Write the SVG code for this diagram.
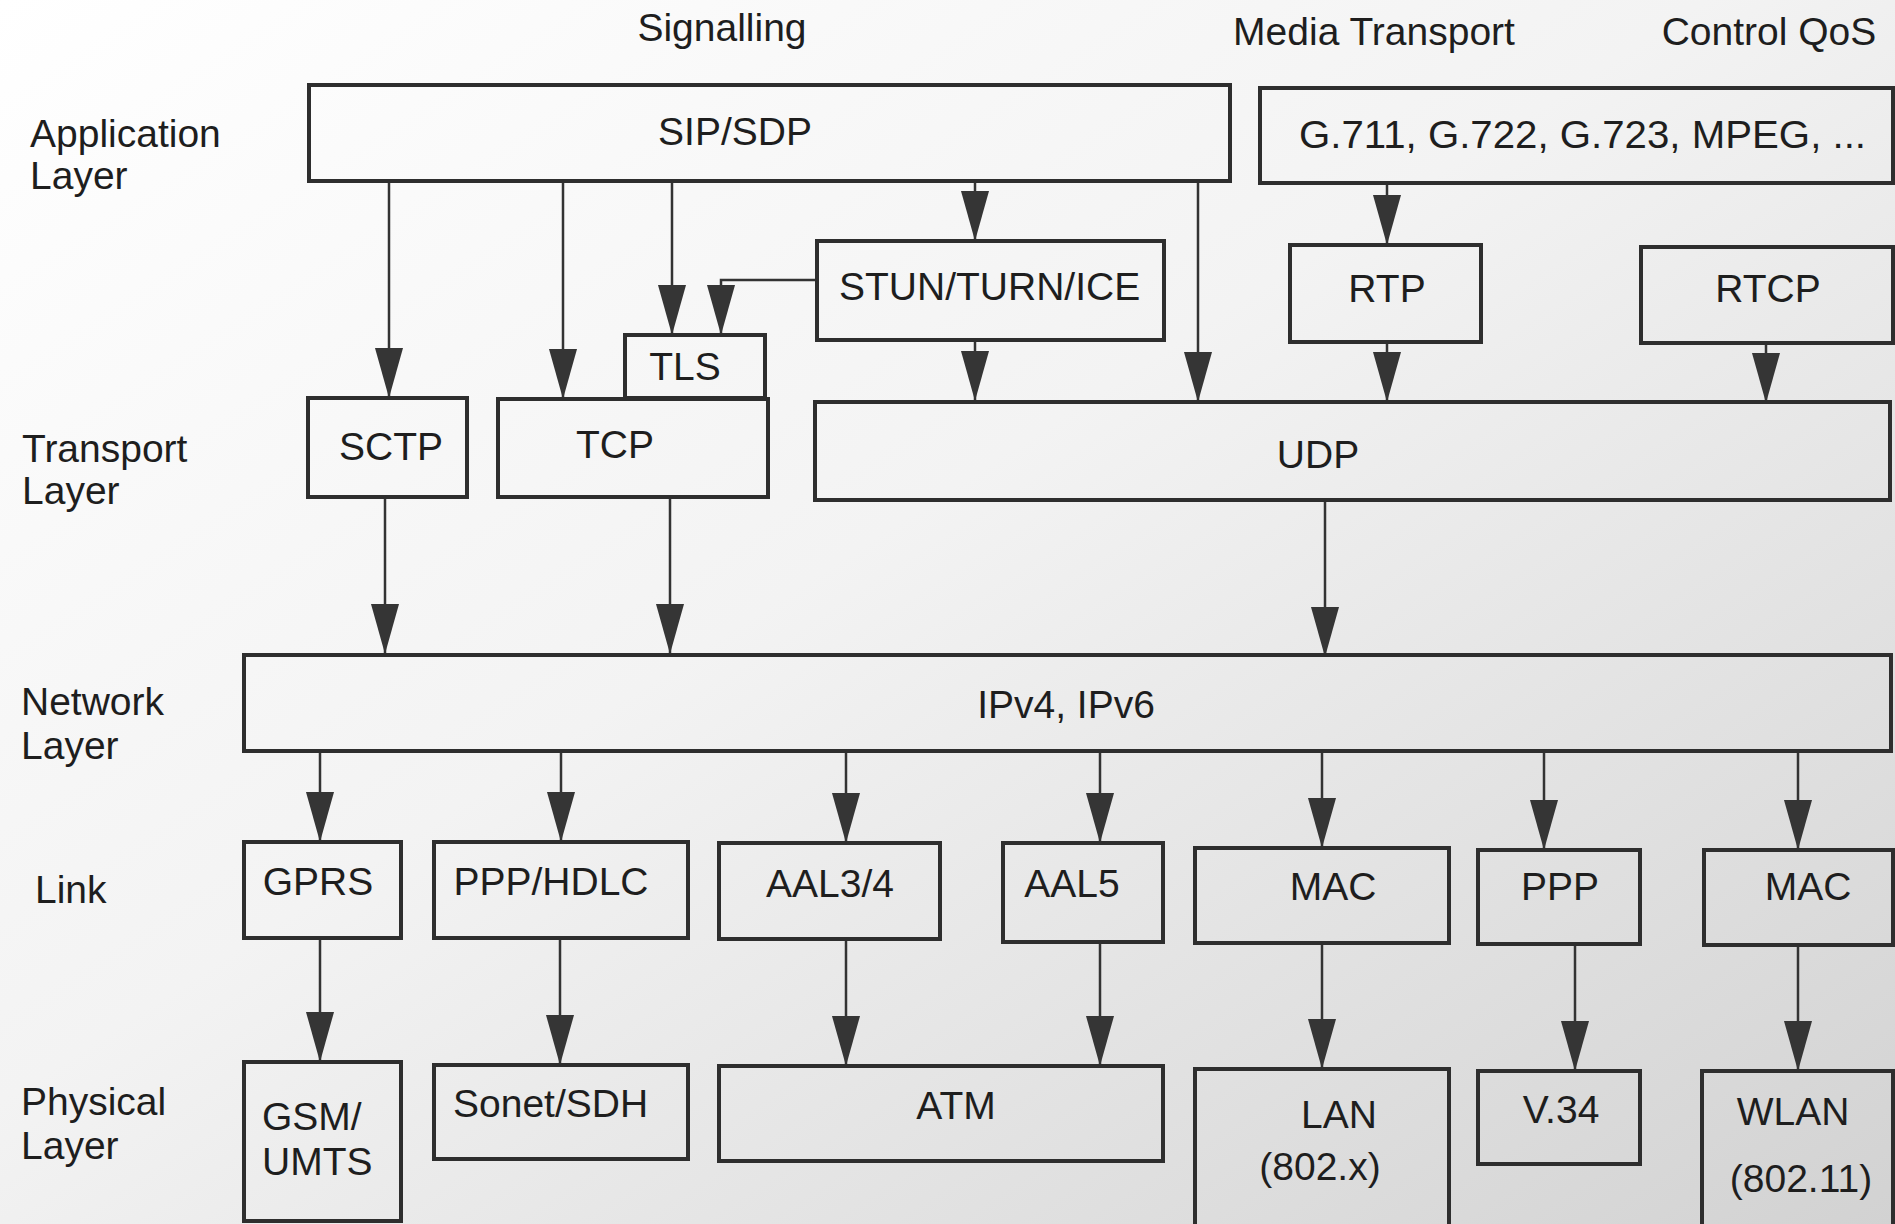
<svg xmlns="http://www.w3.org/2000/svg" width="1895" height="1224" viewBox="0 0 1895 1224">
<defs>
<linearGradient id="bg" x1="0" y1="0" x2="1" y2="1">
<stop offset="0" stop-color="#ffffff"/>
<stop offset="0.45" stop-color="#f3f3f3"/>
<stop offset="1" stop-color="#d2d2d2"/>
</linearGradient>
<marker id="ah" markerUnits="userSpaceOnUse" markerWidth="52" markerHeight="30" refX="50" refY="14" orient="auto">
<path d="M0,0 L50,14 L0,28 Z" fill="#353535"/>
</marker>
<style>
.box{fill:none;stroke:#2e2e2e;stroke-width:4}
.t{font-family:"Liberation Sans",Arial,sans-serif;font-size:39px;fill:#1e1e1e}
.m{text-anchor:middle}
.c{fill:none;stroke:#333;stroke-width:2.5;marker-end:url(#ah)}
</style>
</defs>
<rect x="0" y="0" width="1895" height="1224" fill="url(#bg)"/>

<g id="labels">
<text class="t m" x="722" y="41">Signalling</text>
<text class="t m" x="1374" y="45">Media Transport</text>
<text class="t m" x="1769" y="45">Control QoS</text>
<text class="t" x="30" y="147">Application</text>
<text class="t" x="30" y="189">Layer</text>
<text class="t" x="22" y="462">Transport</text>
<text class="t" x="22" y="504">Layer</text>
<text class="t" x="21" y="715">Network</text>
<text class="t" x="21" y="759">Layer</text>
<text class="t" x="35" y="903">Link</text>
<text class="t" x="21" y="1115">Physical</text>
<text class="t" x="21" y="1159">Layer</text>
</g>

<g id="connectors">
<line class="c" x1="389" y1="181" x2="389" y2="398"/>
<line class="c" x1="563" y1="181" x2="563" y2="399"/>
<line class="c" x1="672" y1="181" x2="672" y2="335"/>
<polyline class="c" points="817,280 721,280 721,335"/>
<line class="c" x1="975" y1="181" x2="975" y2="241"/>
<line class="c" x1="975" y1="340" x2="975" y2="401"/>
<line class="c" x1="1198" y1="181" x2="1198" y2="402"/>
<line class="c" x1="1387" y1="183" x2="1387" y2="245"/>
<line class="c" x1="1387" y1="342" x2="1387" y2="402"/>
<line class="c" x1="1766" y1="343" x2="1766" y2="403"/>
<line class="c" x1="385" y1="497" x2="385" y2="654"/>
<line class="c" x1="670" y1="497" x2="670" y2="654"/>
<line class="c" x1="1325" y1="500" x2="1325" y2="657"/>
<line class="c" x1="320" y1="750" x2="320" y2="842"/>
<line class="c" x1="561" y1="750" x2="561" y2="842"/>
<line class="c" x1="846" y1="750" x2="846" y2="843"/>
<line class="c" x1="1100" y1="750" x2="1100" y2="843"/>
<line class="c" x1="1322" y1="751" x2="1322" y2="848"/>
<line class="c" x1="1544" y1="752" x2="1544" y2="850"/>
<line class="c" x1="1798" y1="752" x2="1798" y2="850"/>
<line class="c" x1="320" y1="938" x2="320" y2="1062"/>
<line class="c" x1="560" y1="938" x2="560" y2="1065"/>
<line class="c" x1="846" y1="939" x2="846" y2="1066"/>
<line class="c" x1="1100" y1="942" x2="1100" y2="1066"/>
<line class="c" x1="1322" y1="943" x2="1322" y2="1069"/>
<line class="c" x1="1575" y1="944" x2="1575" y2="1071"/>
<line class="c" x1="1798" y1="945" x2="1798" y2="1071"/>
</g>

<g id="sip"><rect class="box" x="309" y="85" width="921" height="96"/><text class="t m" x="735" y="145">SIP/SDP</text></g>
<g id="codecs"><rect class="box" x="1260" y="88" width="633" height="95"/><text class="t" x="1299" y="148" textLength="567" lengthAdjust="spacingAndGlyphs">G.711, G.722, G.723, MPEG, ...</text></g>
<g id="stun"><rect class="box" x="817" y="241" width="347" height="99"/><text class="t" x="839" y="300">STUN/TURN/ICE</text></g>
<g id="rtp"><rect class="box" x="1290" y="245" width="191" height="97"/><text class="t m" x="1387" y="302">RTP</text></g>
<g id="rtcp"><rect class="box" x="1641" y="247" width="252" height="96"/><text class="t m" x="1768" y="302">RTCP</text></g>
<g id="tls"><rect class="box" x="625" y="335" width="140" height="63"/><text class="t m" x="685" y="380">TLS</text></g>
<g id="sctp"><rect class="box" x="308" y="398" width="159" height="99"/><text class="t m" x="391" y="460">SCTP</text></g>
<g id="tcp"><rect class="box" x="498" y="399" width="270" height="98"/><text class="t m" x="615" y="458">TCP</text></g>
<g id="udp"><rect class="box" x="815" y="402" width="1075" height="98"/><text class="t m" x="1318" y="468">UDP</text></g>
<g id="ip"><rect class="box" x="244" y="655" width="1647" height="96"/><text class="t m" x="1066" y="718">IPv4, IPv6</text></g>

<g id="gprs"><rect class="box" x="244" y="842" width="157" height="96"/><text class="t m" x="318" y="895">GPRS</text></g>
<g id="ppphdlc"><rect class="box" x="434" y="842" width="254" height="96"/><text class="t m" x="551" y="895">PPP/HDLC</text></g>
<g id="aal34"><rect class="box" x="719" y="843" width="221" height="96"/><text class="t m" x="830" y="897">AAL3/4</text></g>
<g id="aal5"><rect class="box" x="1003" y="843" width="160" height="99"/><text class="t m" x="1072" y="897">AAL5</text></g>
<g id="mac1"><rect class="box" x="1195" y="848" width="254" height="95"/><text class="t m" x="1333" y="900">MAC</text></g>
<g id="ppp"><rect class="box" x="1478" y="850" width="162" height="94"/><text class="t m" x="1560" y="900">PPP</text></g>
<g id="mac2"><rect class="box" x="1704" y="850" width="189" height="95"/><text class="t m" x="1808" y="900">MAC</text></g>

<g id="gsm"><rect class="box" x="244" y="1062" width="157" height="159"/><text class="t" x="262" y="1130">GSM/</text><text class="t" x="262" y="1175">UMTS</text></g>
<g id="sonet"><rect class="box" x="434" y="1065" width="254" height="94"/><text class="t" x="453" y="1117">Sonet/SDH</text></g>
<g id="atm"><rect class="box" x="719" y="1066" width="444" height="95"/><text class="t m" x="956" y="1119">ATM</text></g>
<g id="lan"><rect class="box" x="1195" y="1069" width="254" height="170"/><text class="t m" x="1339" y="1128">LAN</text><text class="t m" x="1320" y="1180">(802.x)</text></g>
<g id="v34"><rect class="box" x="1478" y="1071" width="162" height="93"/><text class="t m" x="1561" y="1123">V.34</text></g>
<g id="wlan"><rect class="box" x="1702" y="1071" width="191" height="170"/><text class="t m" x="1793" y="1125">WLAN</text><text class="t m" x="1801" y="1192">(802.11)</text></g>
</svg>
